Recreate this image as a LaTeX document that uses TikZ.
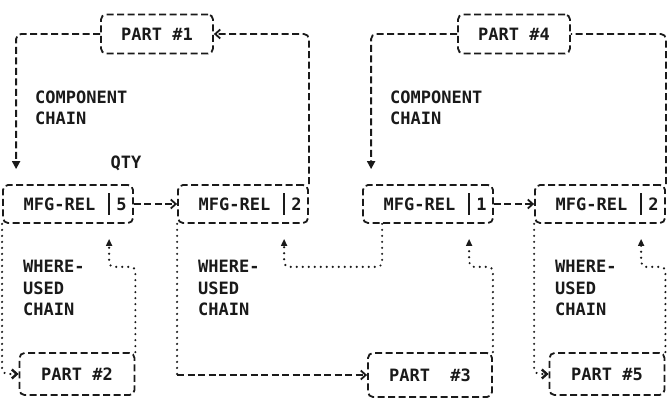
\documentclass[tikz,border=0pt]{standalone}
\usepackage{fontspec}
\newfontfamily\dotfont{DejaVu Sans Mono}
\usetikzlibrary{positioning,arrows.meta,calc}
\definecolor{cInk}{HTML}{1A1A1A}

\begin{document}
\begin{tikzpicture}[
  x=1pt,y=-1pt,
  font=\dotfont\bfseries\fontsize{17}{21.5}\selectfont,
  >={Straight Barb[length=5pt,width=9pt]},
  box/.style={rounded corners=5pt,draw=cInk,line width=1.8pt,dash pattern=on 7pt off 3.5pt,inner sep=0pt,text=cInk},
  part/.style={box,minimum width=112pt,minimum height=39pt},
  rel/.style={box,minimum width=130pt,minimum height=38pt},
  chain/.style={cInk,line width=1.8pt,dash pattern=on 7pt off 3.5pt,rounded corners=5pt},
  used/.style={cInk,line width=2.4pt,dash pattern=on 0pt off 6pt,line cap=round,rounded corners=5pt},
  chaintip/.style={-{Triangle[length=8pt,width=8pt]},shorten >=15pt},
  usedtip/.style={-{Triangle[length=7pt,width=6pt]},shorten >=15pt},
  bar/.style={cInk,line width=1.8pt},
  lbl/.style={text=cInk,align=left,inner sep=0pt},
]
\useasboundingbox (0,0) rectangle (668,401);

% ---------- PARTS ----------
\node[part] (p1) at (157,34) {PART \#1};
\node[part] (p4) at (514,34) {PART \#4};
\node[part,minimum width=115pt,minimum height=42pt] (p2) at (77,374) {PART \#2};
\node[part,minimum width=124pt,minimum height=44pt] (p3) at (430,375) {PART~~\#3};
\node[part,minimum width=115pt,minimum height=42pt] (p5) at (607,374) {PART \#5};

% ---------- MFG-REL RECORDS ----------
\node[rel] (r1) at (68,204) {\makebox[107pt][c]{\hspace{6pt}MFG-REL}\makebox[23pt][c]{5}};
\node[rel] (r2) at (243,204) {\makebox[107pt][c]{\hspace{6pt}MFG-REL}\makebox[23pt][c]{2}};
\node[rel] (r3) at (428,204) {\makebox[107pt][c]{\hspace{6pt}MFG-REL}\makebox[23pt][c]{1}};
\node[rel] (r4) at (600,204) {\makebox[107pt][c]{\hspace{6pt}MFG-REL}\makebox[23pt][c]{2}};
% qty field separators
\foreach \r in {r1,r2,r3,r4}
  \draw[bar] ([xshift=107pt,yshift=-9pt]\r.north west) -- ([xshift=107pt,yshift=9pt]\r.south west);

% feet of the where-used arrows
\coordinate (r1q) at ([xshift=107pt]r1.south west);
\coordinate (r2q) at ([xshift=107pt]r2.south west);
\coordinate (r3q) at ([xshift=107pt]r3.south west);
\coordinate (r4q) at ([xshift=107pt]r4.south west);

% ---------- LABELS ----------
\node[lbl,anchor=west] (cc1) at (35,108) {COMPONENT\\CHAIN};
\node[lbl,anchor=west] (cc4) at (390,108) {COMPONENT\\CHAIN};
\node[lbl] (qty) at (126,163) {QTY};
\node[lbl,anchor=west] (wu1) at (23,288) {WHERE-\\USED\\CHAIN};
\node[lbl,anchor=west] (wu2) at (198,288) {WHERE-\\USED\\CHAIN};
\node[lbl,anchor=west] (wu4) at (555,288) {WHERE-\\USED\\CHAIN};

% ---------- COMPONENT CHAINS ----------
\draw[chain,chaintip] (p1.west) -| ([xshift=14pt]r1.north west);
\draw[chain,->] (r1.east) -- (r2.west);
\draw[chain,->] (r2.north east) |- (p1.east);
\draw[chain,chaintip] (p4.west) -| ([xshift=9pt]r3.north west);
\draw[chain,->] (r3.east) -- (r4.west);
\draw[chain] (r4.north east) |- (p4.east);

% ---------- WHERE-USED CHAINS ----------
\draw[used,->] (r1.south west) |- (p2.west);
\draw[used,usedtip] (p2.north east) |- ([yshift=-43pt]r1q) -- (r1q);
\draw[used] (r2.south west) -- (r2.south west |- p3.west);
\draw[chain,->] (r2.south west |- p3.west) -- (p3.west);
\draw[used,usedtip] ([xshift=20pt]r3.south west) |- ([yshift=-43pt]r2q) -- (r2q);
\draw[used,usedtip] (p3.north east) |- ([yshift=-43pt]r3q) -- (r3q);
\draw[used,->] (r4.south west) |- (p5.west);
\draw[used,usedtip] (p5.north east) |- ([yshift=-43pt]r4q) -- (r4q);

\end{tikzpicture}
\end{document}
